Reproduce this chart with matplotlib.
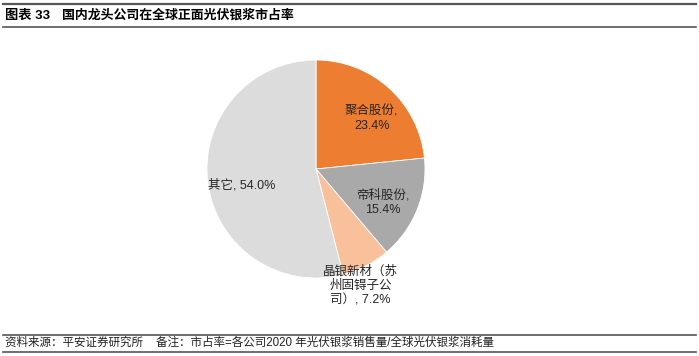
import matplotlib
matplotlib.use("Agg")
import matplotlib.pyplot as plt
from matplotlib.lines import Line2D

plt.rcParams["font.family"] = ["Liberation Sans", "Noto Sans CJK SC", "DejaVu Sans"]

# data
companies = ["聚合股份", "帝科股份", "晶银新材（苏\n州固锝子公\n司）", "其它"]
shares = [23.4, 15.4, 7.2, 54.0]
label_texts = ["聚合股份,\n23.4%", "帝科股份,\n15.4%", "晶银新材（苏\n州固锝子公\n司）, 7.2%", "其它, 54.0%"]

title_num = "图表 33"
title_text = "国内龙头公司在全球正面光伏银浆市占率"
source_text = "资料来源：平安证券研究所    备注：市占率=各公司2020 年光伏银浆销售量/全球光伏银浆消耗量"

colors = ["#ED7D31", "#A9A9A9", "#F8C09B", "#DCDCDC"]
label_pos = [(0.51, 0.46), (0.61, -0.31), (0.41, -1.07), (-0.68, -0.15)]

W, H = 699, 356
fig = plt.figure(figsize=(W / 100, H / 100), dpi=100)


def fy(py):
    return 1 - py / H


# header / footer rules
for py, lw in [(4, 1.6), (27, 1.2), (335, 1.2), (352, 1.2)]:
    fig.add_artist(Line2D([3 / W, 696 / W], [fy(py), fy(py)], color="#555555", lw=lw))

fig.text(5 / W, fy(15.5), title_num, fontsize=9.5, fontweight="bold", va="center", ha="left")
fig.text(62 / W, fy(15.5), title_text, fontsize=9.3, fontweight="bold", va="center", ha="left")
fig.text(5 / W, fy(343), source_text, fontsize=8.3, va="center", ha="left", color="#222222")

# pie
R = 109
cx, cy = 316, 187
lim = 1.3
side = 2 * lim * R
ax = fig.add_axes([(cx - side / 2) / W, (cy - side / 2) / H, side / W, side / H])
ax.pie(shares, colors=colors, startangle=90, counterclock=False,
       wedgeprops=dict(edgecolor="white", linewidth=0.6))
ax.set_xlim(-lim, lim)
ax.set_ylim(-lim, lim)
ax.set_aspect("equal")

for txt, (x, y) in zip(label_texts, label_pos):
    ax.text(x, y, txt, ha="center", va="center", fontsize=9, color="#262626",
            linespacing=1.25)

fig.savefig("out.png", dpi=100)
